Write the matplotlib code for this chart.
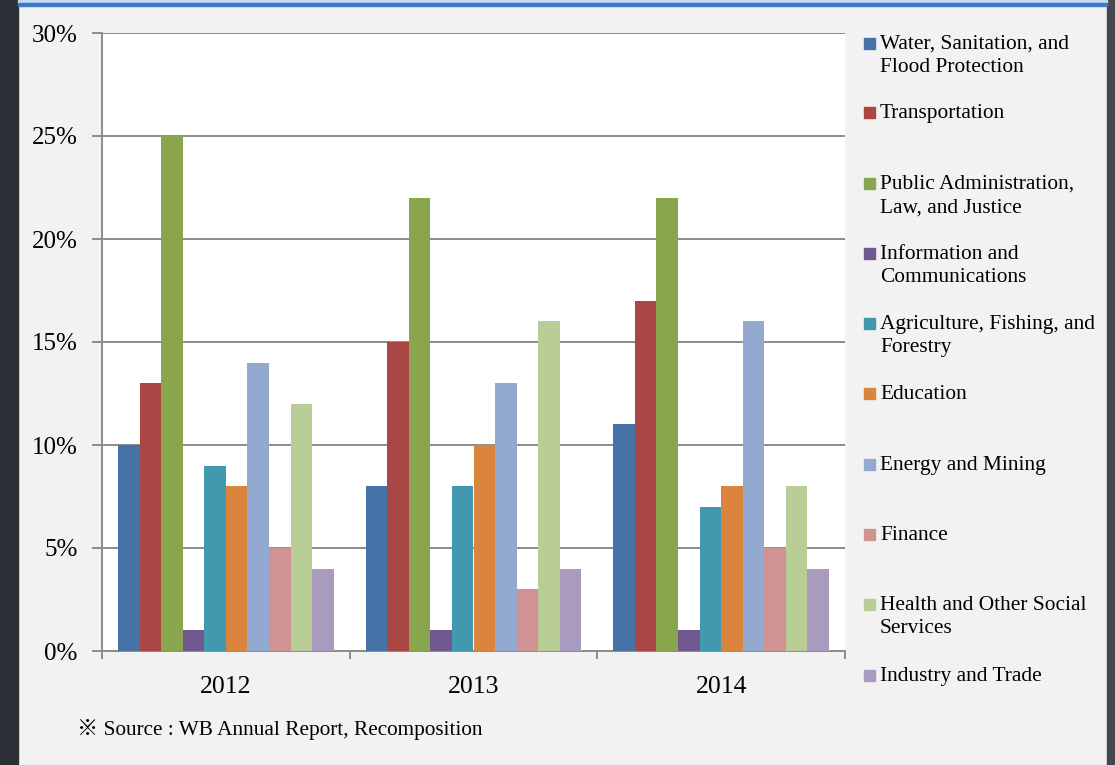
import numpy as np
import matplotlib
matplotlib.use('Agg')
import matplotlib.pyplot as plt
from matplotlib.patches import Rectangle
from matplotlib.ticker import FuncFormatter, MultipleLocator

years = ['2012', '2013', '2014']
sectors = ['Water, Sanitation, and\nFlood Protection', 'Transportation',
           'Public Administration,\nLaw, and Justice', 'Information and\nCommunications',
           'Agriculture, Fishing, and\nForestry', 'Education', 'Energy and Mining',
           'Finance', 'Health and Other Social\nServices', 'Industry and Trade']
colors = ['#4572A7', '#AA4643', '#89A54E', '#71588F', '#4198AF',
          '#DB843D', '#93A9CF', '#D19392', '#B9CD96', '#A99BBD']

# percent share per sector, one list per year
share_2012 = [10, 13, 25, 1, 9, 8, 14, 5, 12, 4]
share_2013 = [8, 15, 22, 1, 8, 10, 13, 3, 16, 4]
share_2014 = [11, 17, 22, 1, 7, 8, 16, 5, 8, 4]
values = np.array([share_2012, share_2013, share_2014])

plt.rcParams['font.family'] = ['Liberation Serif', 'Noto Sans CJK JP', 'DejaVu Serif']

W, H = 1115, 765
fig = plt.figure(figsize=(W / 100, H / 100), dpi=100, facecolor='#f2f2f2')

# dark frame on the sides and blue strip on top
fig.patches.append(Rectangle((0, 0), 18 / W, 1, transform=fig.transFigure, color='#2b3036', zorder=0))
fig.patches.append(Rectangle((1107 / W, 0), 8 / W, 1, transform=fig.transFigure, color='#44484c', zorder=0))
fig.patches.append(Rectangle((18 / W, 1 - 3 / H), 1089 / W, 3 / H, transform=fig.transFigure, color='#c6d9f0', zorder=0))
fig.patches.append(Rectangle((18 / W, 1 - 6 / H), 1089 / W, 3 / H, transform=fig.transFigure, color='#3c7ac5', zorder=0))

ax = fig.add_axes([102 / W, 1 - 651 / H, (845 - 102) / W, (651 - 33) / H])
ax.set_facecolor('white')

n = len(sectors)
bw = 0.871 / n
x = np.arange(len(years))
for i in range(n):
    ax.bar(x - 0.4355 + bw * (i + 0.5), values[:, i], width=bw, color=colors[i], zorder=3)

ax.set_xlim(-0.5, 2.5)
ax.set_ylim(0, 30)
ax.yaxis.set_major_locator(MultipleLocator(5))
ax.yaxis.set_major_formatter(FuncFormatter(lambda v, p: '%d%%' % v))
ax.grid(axis='y', color='#8c8c8c', linewidth=1.4, zorder=1)
for s in ['top', 'right']:
    ax.spines[s].set_visible(False)
for s in ['left', 'bottom']:
    ax.spines[s].set_color('#8c8c8c')
    ax.spines[s].set_linewidth(1.4)
ax.tick_params(axis='y', length=7, width=1.4, color='#8c8c8c', labelsize=18, pad=10.5)
ax.set_xticks(x)
ax.set_xticklabels(years)
ax.tick_params(axis='x', length=0, labelsize=18.5, pad=18)
ax.set_xticks([-0.5, 0.5, 1.5, 2.5], minor=True)
ax.tick_params(axis='x', which='minor', length=6, width=1.4, color='#8c8c8c')

# legend laid out the way the spreadsheet spreads it down the side
legend_y = [43, 112, 183, 253, 323, 393, 464, 534, 604, 675]
for lab, col, yy in zip(sectors, colors, legend_y):
    fig.patches.append(Rectangle((864 / W, 1 - (yy + 5.5) / H), 11 / W, 11 / H,
                                 transform=fig.transFigure, color=col))
    fig.text(880 / W, 1 - (yy - 8) / H, lab, fontsize=15.4, va='top', ha='left',
             linespacing=1.3)

fig.text(77 / W, 1 - 729 / H, '\u203b Source : WB Annual Report, Recomposition',
         fontsize=15.3, va='center', ha='left')

fig.savefig('out.png', dpi=100, facecolor=fig.get_facecolor())
